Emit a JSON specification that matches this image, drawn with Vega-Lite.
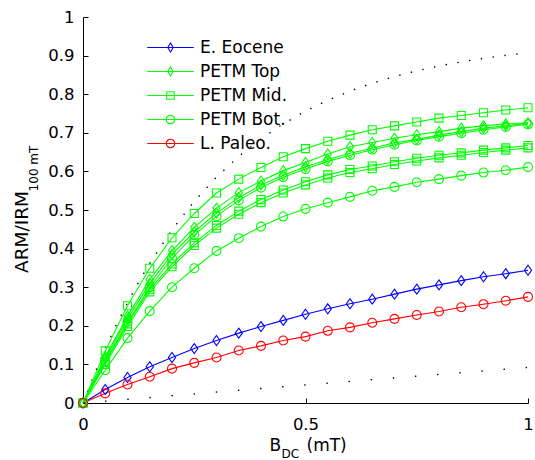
{
  "$schema": "https://vega.github.io/schema/vega-lite/v6.json",
  "width": 445,
  "height": 386,
  "autosize": {"type": "none"},
  "padding": {"left": 83, "top": 17, "right": 7, "bottom": 57},
  "background": "white",
  "config": {
    "view": {"stroke": null},
    "font": "DejaVu Sans",
    "axis": {"domainColor": "#000", "tickColor": "#000", "labelColor": "#000", "titleColor": "#000", "grid": false, "domainWidth": 1, "tickWidth": 1, "labelFont": "DejaVu Sans", "titleFont": "DejaVu Sans", "titleFontWeight": "normal", "labelFlush": false},
    "legend": {"labelFont": "DejaVu Sans", "orient": "none", "legendX": 79, "legendY": 22, "padding": 0, "symbolSize": 100, "symbolStrokeWidth": 1.1, "symbolFillColor": "transparent", "labelFontSize": 17, "labelOffset": 21, "rowPadding": 6, "labelColor": "#000"}
  },
  "datasets": {
    "upper": [
      {"x": 0, "y": 0}, {"x": 0.025, "y": 0.073}, {"x": 0.05, "y": 0.1405}, {"x": 0.075, "y": 0.2027}, {"x": 0.1, "y": 0.2602}, {"x": 0.125, "y": 0.3131}, {"x": 0.15, "y": 0.362}, {"x": 0.2, "y": 0.4487}, {"x": 0.25, "y": 0.5225}, {"x": 0.3, "y": 0.5853}, {"x": 0.35, "y": 0.6388}, {"x": 0.4, "y": 0.6844}, {"x": 0.45, "y": 0.7231}, {"x": 0.5, "y": 0.7561}, {"x": 0.55, "y": 0.7842}, {"x": 0.6, "y": 0.8081}, {"x": 0.65, "y": 0.8285}, {"x": 0.7, "y": 0.8458}, {"x": 0.75, "y": 0.8605}, {"x": 0.8, "y": 0.8731}, {"x": 0.85, "y": 0.8838}, {"x": 0.9, "y": 0.8929}, {"x": 0.95, "y": 0.9007}, {"x": 1, "y": 0.9072}
    ],
    "lower": [
      {"x": 0, "y": 0}, {"x": 0.5, "y": 0.047}, {"x": 1, "y": 0.092}
    ],
    "series": [
      {"c": "EE", "g": "E. Eocene", "x": 0, "y": 0}, {"c": "EE", "g": "E. Eocene", "x": 0.05, "y": 0.035}, {"c": "EE", "g": "E. Eocene", "x": 0.1, "y": 0.066}, {"c": "EE", "g": "E. Eocene", "x": 0.15, "y": 0.094}, {"c": "EE", "g": "E. Eocene", "x": 0.2, "y": 0.118}, {"c": "EE", "g": "E. Eocene", "x": 0.25, "y": 0.141}, {"c": "EE", "g": "E. Eocene", "x": 0.3, "y": 0.162}, {"c": "EE", "g": "E. Eocene", "x": 0.35, "y": 0.181}, {"c": "EE", "g": "E. Eocene", "x": 0.4, "y": 0.198}, {"c": "EE", "g": "E. Eocene", "x": 0.45, "y": 0.214}, {"c": "EE", "g": "E. Eocene", "x": 0.5, "y": 0.23}, {"c": "EE", "g": "E. Eocene", "x": 0.55, "y": 0.244}, {"c": "EE", "g": "E. Eocene", "x": 0.6, "y": 0.257}, {"c": "EE", "g": "E. Eocene", "x": 0.65, "y": 0.269}, {"c": "EE", "g": "E. Eocene", "x": 0.7, "y": 0.282}, {"c": "EE", "g": "E. Eocene", "x": 0.75, "y": 0.295}, {"c": "EE", "g": "E. Eocene", "x": 0.8, "y": 0.306}, {"c": "EE", "g": "E. Eocene", "x": 0.85, "y": 0.317}, {"c": "EE", "g": "E. Eocene", "x": 0.9, "y": 0.327}, {"c": "EE", "g": "E. Eocene", "x": 0.95, "y": 0.335}, {"c": "EE", "g": "E. Eocene", "x": 1, "y": 0.344},
      {"c": "PT1", "g": "PETM Top", "x": 0, "y": 0}, {"c": "PT1", "g": "PETM Top", "x": 0.05, "y": 0.12}, {"c": "PT1", "g": "PETM Top", "x": 0.1, "y": 0.225}, {"c": "PT1", "g": "PETM Top", "x": 0.15, "y": 0.32}, {"c": "PT1", "g": "PETM Top", "x": 0.2, "y": 0.395}, {"c": "PT1", "g": "PETM Top", "x": 0.25, "y": 0.455}, {"c": "PT1", "g": "PETM Top", "x": 0.3, "y": 0.505}, {"c": "PT1", "g": "PETM Top", "x": 0.35, "y": 0.545}, {"c": "PT1", "g": "PETM Top", "x": 0.4, "y": 0.575}, {"c": "PT1", "g": "PETM Top", "x": 0.45, "y": 0.602}, {"c": "PT1", "g": "PETM Top", "x": 0.5, "y": 0.623}, {"c": "PT1", "g": "PETM Top", "x": 0.55, "y": 0.645}, {"c": "PT1", "g": "PETM Top", "x": 0.6, "y": 0.664}, {"c": "PT1", "g": "PETM Top", "x": 0.65, "y": 0.675}, {"c": "PT1", "g": "PETM Top", "x": 0.7, "y": 0.686}, {"c": "PT1", "g": "PETM Top", "x": 0.75, "y": 0.695}, {"c": "PT1", "g": "PETM Top", "x": 0.8, "y": 0.703}, {"c": "PT1", "g": "PETM Top", "x": 0.85, "y": 0.712}, {"c": "PT1", "g": "PETM Top", "x": 0.9, "y": 0.718}, {"c": "PT1", "g": "PETM Top", "x": 0.95, "y": 0.723}, {"c": "PT1", "g": "PETM Top", "x": 1, "y": 0.726},
      {"c": "PT2", "g": "PETM Top", "x": 0, "y": 0}, {"c": "PT2", "g": "PETM Top", "x": 0.05, "y": 0.115}, {"c": "PT2", "g": "PETM Top", "x": 0.1, "y": 0.218}, {"c": "PT2", "g": "PETM Top", "x": 0.15, "y": 0.31}, {"c": "PT2", "g": "PETM Top", "x": 0.2, "y": 0.385}, {"c": "PT2", "g": "PETM Top", "x": 0.25, "y": 0.443}, {"c": "PT2", "g": "PETM Top", "x": 0.3, "y": 0.492}, {"c": "PT2", "g": "PETM Top", "x": 0.35, "y": 0.532}, {"c": "PT2", "g": "PETM Top", "x": 0.4, "y": 0.565}, {"c": "PT2", "g": "PETM Top", "x": 0.45, "y": 0.59}, {"c": "PT2", "g": "PETM Top", "x": 0.5, "y": 0.612}, {"c": "PT2", "g": "PETM Top", "x": 0.55, "y": 0.631}, {"c": "PT2", "g": "PETM Top", "x": 0.6, "y": 0.647}, {"c": "PT2", "g": "PETM Top", "x": 0.65, "y": 0.66}, {"c": "PT2", "g": "PETM Top", "x": 0.7, "y": 0.674}, {"c": "PT2", "g": "PETM Top", "x": 0.75, "y": 0.683}, {"c": "PT2", "g": "PETM Top", "x": 0.8, "y": 0.694}, {"c": "PT2", "g": "PETM Top", "x": 0.85, "y": 0.703}, {"c": "PT2", "g": "PETM Top", "x": 0.9, "y": 0.712}, {"c": "PT2", "g": "PETM Top", "x": 0.95, "y": 0.718}, {"c": "PT2", "g": "PETM Top", "x": 1, "y": 0.725},
      {"c": "PM1", "g": "PETM Mid.", "x": 0, "y": 0}, {"c": "PM1", "g": "PETM Mid.", "x": 0.05, "y": 0.135}, {"c": "PM1", "g": "PETM Mid.", "x": 0.1, "y": 0.252}, {"c": "PM1", "g": "PETM Mid.", "x": 0.15, "y": 0.349}, {"c": "PM1", "g": "PETM Mid.", "x": 0.2, "y": 0.428}, {"c": "PM1", "g": "PETM Mid.", "x": 0.25, "y": 0.491}, {"c": "PM1", "g": "PETM Mid.", "x": 0.3, "y": 0.544}, {"c": "PM1", "g": "PETM Mid.", "x": 0.35, "y": 0.58}, {"c": "PM1", "g": "PETM Mid.", "x": 0.4, "y": 0.61}, {"c": "PM1", "g": "PETM Mid.", "x": 0.45, "y": 0.638}, {"c": "PM1", "g": "PETM Mid.", "x": 0.5, "y": 0.659}, {"c": "PM1", "g": "PETM Mid.", "x": 0.55, "y": 0.678}, {"c": "PM1", "g": "PETM Mid.", "x": 0.6, "y": 0.694}, {"c": "PM1", "g": "PETM Mid.", "x": 0.65, "y": 0.708}, {"c": "PM1", "g": "PETM Mid.", "x": 0.7, "y": 0.718}, {"c": "PM1", "g": "PETM Mid.", "x": 0.75, "y": 0.728}, {"c": "PM1", "g": "PETM Mid.", "x": 0.8, "y": 0.738}, {"c": "PM1", "g": "PETM Mid.", "x": 0.85, "y": 0.745}, {"c": "PM1", "g": "PETM Mid.", "x": 0.9, "y": 0.752}, {"c": "PM1", "g": "PETM Mid.", "x": 0.95, "y": 0.759}, {"c": "PM1", "g": "PETM Mid.", "x": 1, "y": 0.765},
      {"c": "PM2", "g": "PETM Mid.", "x": 0, "y": 0}, {"c": "PM2", "g": "PETM Mid.", "x": 0.05, "y": 0.105}, {"c": "PM2", "g": "PETM Mid.", "x": 0.1, "y": 0.205}, {"c": "PM2", "g": "PETM Mid.", "x": 0.15, "y": 0.295}, {"c": "PM2", "g": "PETM Mid.", "x": 0.2, "y": 0.36}, {"c": "PM2", "g": "PETM Mid.", "x": 0.25, "y": 0.415}, {"c": "PM2", "g": "PETM Mid.", "x": 0.3, "y": 0.46}, {"c": "PM2", "g": "PETM Mid.", "x": 0.35, "y": 0.497}, {"c": "PM2", "g": "PETM Mid.", "x": 0.4, "y": 0.527}, {"c": "PM2", "g": "PETM Mid.", "x": 0.45, "y": 0.552}, {"c": "PM2", "g": "PETM Mid.", "x": 0.5, "y": 0.573}, {"c": "PM2", "g": "PETM Mid.", "x": 0.55, "y": 0.591}, {"c": "PM2", "g": "PETM Mid.", "x": 0.6, "y": 0.605}, {"c": "PM2", "g": "PETM Mid.", "x": 0.65, "y": 0.614}, {"c": "PM2", "g": "PETM Mid.", "x": 0.7, "y": 0.625}, {"c": "PM2", "g": "PETM Mid.", "x": 0.75, "y": 0.634}, {"c": "PM2", "g": "PETM Mid.", "x": 0.8, "y": 0.642}, {"c": "PM2", "g": "PETM Mid.", "x": 0.85, "y": 0.648}, {"c": "PM2", "g": "PETM Mid.", "x": 0.9, "y": 0.655}, {"c": "PM2", "g": "PETM Mid.", "x": 0.95, "y": 0.661}, {"c": "PM2", "g": "PETM Mid.", "x": 1, "y": 0.667},
      {"c": "PM3", "g": "PETM Mid.", "x": 0, "y": 0}, {"c": "PM3", "g": "PETM Mid.", "x": 0.05, "y": 0.1}, {"c": "PM3", "g": "PETM Mid.", "x": 0.1, "y": 0.198}, {"c": "PM3", "g": "PETM Mid.", "x": 0.15, "y": 0.288}, {"c": "PM3", "g": "PETM Mid.", "x": 0.2, "y": 0.353}, {"c": "PM3", "g": "PETM Mid.", "x": 0.25, "y": 0.408}, {"c": "PM3", "g": "PETM Mid.", "x": 0.3, "y": 0.453}, {"c": "PM3", "g": "PETM Mid.", "x": 0.35, "y": 0.489}, {"c": "PM3", "g": "PETM Mid.", "x": 0.4, "y": 0.519}, {"c": "PM3", "g": "PETM Mid.", "x": 0.45, "y": 0.544}, {"c": "PM3", "g": "PETM Mid.", "x": 0.5, "y": 0.565}, {"c": "PM3", "g": "PETM Mid.", "x": 0.55, "y": 0.583}, {"c": "PM3", "g": "PETM Mid.", "x": 0.6, "y": 0.597}, {"c": "PM3", "g": "PETM Mid.", "x": 0.65, "y": 0.607}, {"c": "PM3", "g": "PETM Mid.", "x": 0.7, "y": 0.618}, {"c": "PM3", "g": "PETM Mid.", "x": 0.75, "y": 0.627}, {"c": "PM3", "g": "PETM Mid.", "x": 0.8, "y": 0.635}, {"c": "PM3", "g": "PETM Mid.", "x": 0.85, "y": 0.642}, {"c": "PM3", "g": "PETM Mid.", "x": 0.9, "y": 0.649}, {"c": "PM3", "g": "PETM Mid.", "x": 0.95, "y": 0.655}, {"c": "PM3", "g": "PETM Mid.", "x": 1, "y": 0.661},
      {"c": "PB1", "g": "PETM Bot.", "x": 0, "y": 0}, {"c": "PB1", "g": "PETM Bot.", "x": 0.05, "y": 0.085}, {"c": "PB1", "g": "PETM Bot.", "x": 0.1, "y": 0.168}, {"c": "PB1", "g": "PETM Bot.", "x": 0.15, "y": 0.238}, {"c": "PB1", "g": "PETM Bot.", "x": 0.2, "y": 0.3}, {"c": "PB1", "g": "PETM Bot.", "x": 0.25, "y": 0.349}, {"c": "PB1", "g": "PETM Bot.", "x": 0.3, "y": 0.394}, {"c": "PB1", "g": "PETM Bot.", "x": 0.35, "y": 0.427}, {"c": "PB1", "g": "PETM Bot.", "x": 0.4, "y": 0.457}, {"c": "PB1", "g": "PETM Bot.", "x": 0.45, "y": 0.483}, {"c": "PB1", "g": "PETM Bot.", "x": 0.5, "y": 0.503}, {"c": "PB1", "g": "PETM Bot.", "x": 0.55, "y": 0.519}, {"c": "PB1", "g": "PETM Bot.", "x": 0.6, "y": 0.534}, {"c": "PB1", "g": "PETM Bot.", "x": 0.65, "y": 0.55}, {"c": "PB1", "g": "PETM Bot.", "x": 0.7, "y": 0.56}, {"c": "PB1", "g": "PETM Bot.", "x": 0.75, "y": 0.572}, {"c": "PB1", "g": "PETM Bot.", "x": 0.8, "y": 0.58}, {"c": "PB1", "g": "PETM Bot.", "x": 0.85, "y": 0.589}, {"c": "PB1", "g": "PETM Bot.", "x": 0.9, "y": 0.597}, {"c": "PB1", "g": "PETM Bot.", "x": 0.95, "y": 0.603}, {"c": "PB1", "g": "PETM Bot.", "x": 1, "y": 0.611},
      {"c": "PB2", "g": "PETM Bot.", "x": 0, "y": 0}, {"c": "PB2", "g": "PETM Bot.", "x": 0.05, "y": 0.108}, {"c": "PB2", "g": "PETM Bot.", "x": 0.1, "y": 0.21}, {"c": "PB2", "g": "PETM Bot.", "x": 0.15, "y": 0.3}, {"c": "PB2", "g": "PETM Bot.", "x": 0.2, "y": 0.375}, {"c": "PB2", "g": "PETM Bot.", "x": 0.25, "y": 0.435}, {"c": "PB2", "g": "PETM Bot.", "x": 0.3, "y": 0.484}, {"c": "PB2", "g": "PETM Bot.", "x": 0.35, "y": 0.525}, {"c": "PB2", "g": "PETM Bot.", "x": 0.4, "y": 0.558}, {"c": "PB2", "g": "PETM Bot.", "x": 0.45, "y": 0.585}, {"c": "PB2", "g": "PETM Bot.", "x": 0.5, "y": 0.606}, {"c": "PB2", "g": "PETM Bot.", "x": 0.55, "y": 0.626}, {"c": "PB2", "g": "PETM Bot.", "x": 0.6, "y": 0.642}, {"c": "PB2", "g": "PETM Bot.", "x": 0.65, "y": 0.656}, {"c": "PB2", "g": "PETM Bot.", "x": 0.7, "y": 0.669}, {"c": "PB2", "g": "PETM Bot.", "x": 0.75, "y": 0.68}, {"c": "PB2", "g": "PETM Bot.", "x": 0.8, "y": 0.69}, {"c": "PB2", "g": "PETM Bot.", "x": 0.85, "y": 0.699}, {"c": "PB2", "g": "PETM Bot.", "x": 0.9, "y": 0.708}, {"c": "PB2", "g": "PETM Bot.", "x": 0.95, "y": 0.715}, {"c": "PB2", "g": "PETM Bot.", "x": 1, "y": 0.722},
      {"c": "LP", "g": "L. Paleo.", "x": 0, "y": 0}, {"c": "LP", "g": "L. Paleo.", "x": 0.05, "y": 0.025}, {"c": "LP", "g": "L. Paleo.", "x": 0.1, "y": 0.048}, {"c": "LP", "g": "L. Paleo.", "x": 0.15, "y": 0.068}, {"c": "LP", "g": "L. Paleo.", "x": 0.2, "y": 0.089}, {"c": "LP", "g": "L. Paleo.", "x": 0.25, "y": 0.104}, {"c": "LP", "g": "L. Paleo.", "x": 0.3, "y": 0.118}, {"c": "LP", "g": "L. Paleo.", "x": 0.35, "y": 0.136}, {"c": "LP", "g": "L. Paleo.", "x": 0.4, "y": 0.148}, {"c": "LP", "g": "L. Paleo.", "x": 0.45, "y": 0.162}, {"c": "LP", "g": "L. Paleo.", "x": 0.5, "y": 0.172}, {"c": "LP", "g": "L. Paleo.", "x": 0.55, "y": 0.187}, {"c": "LP", "g": "L. Paleo.", "x": 0.6, "y": 0.196}, {"c": "LP", "g": "L. Paleo.", "x": 0.65, "y": 0.208}, {"c": "LP", "g": "L. Paleo.", "x": 0.7, "y": 0.218}, {"c": "LP", "g": "L. Paleo.", "x": 0.75, "y": 0.228}, {"c": "LP", "g": "L. Paleo.", "x": 0.8, "y": 0.237}, {"c": "LP", "g": "L. Paleo.", "x": 0.85, "y": 0.248}, {"c": "LP", "g": "L. Paleo.", "x": 0.9, "y": 0.256}, {"c": "LP", "g": "L. Paleo.", "x": 0.95, "y": 0.265}, {"c": "LP", "g": "L. Paleo.", "x": 1, "y": 0.275}
    ]
  },
  "resolve": {"axis": {"x": "independent", "y": "independent"}},
  "layer": [
    {
      "data": {"name": "upper"},
      "mark": {"type": "line", "color": "#000", "strokeWidth": 1.4, "strokeDash": [1.4, 10.5], "strokeCap": "butt"},
      "encoding": {
        "x": {"field": "x", "type": "quantitative", "scale": {"domain": [0, 1], "nice": false},
          "axis": {"orient": "bottom", "labels": false, "ticks": false, "domain": false, "title": "DC", "titleFontSize": 12, "titleAlign": "left", "titleBaseline": "alphabetic", "titleX": 198, "titleY": 54.5}},
        "y": {"field": "y", "type": "quantitative", "scale": {"domain": [0, 1], "nice": false},
          "axis": {"orient": "left", "labels": false, "ticks": false, "domain": false, "title": "100 mT", "titleFontSize": 12, "titleAngle": 270, "titleAlign": "center", "titleBaseline": "alphabetic", "titleX": -46, "titleY": 151}}
      }
    },
    {
      "data": {"name": "lower"},
      "mark": {"type": "line", "color": "#000", "strokeWidth": 1.4, "strokeDash": [1.4, 20.8], "strokeCap": "butt"},
      "encoding": {
        "x": {"field": "x", "type": "quantitative", "scale": {"domain": [0, 1], "nice": false},
          "axis": {"orient": "bottom", "labels": false, "ticks": false, "domain": false, "title": "(mT)", "titleFontSize": 17, "titleAlign": "left", "titleBaseline": "alphabetic", "titleX": 223, "titleY": 47}},
        "y": {"field": "y", "type": "quantitative", "axis": null}
      }
    },
    {
      "data": {"name": "series"},
      "mark": {"type": "line", "strokeWidth": 1.1},
      "encoding": {
        "x": {"field": "x", "type": "quantitative", "scale": {"domain": [0, 1], "nice": false},
          "axis": {"orient": "bottom", "values": [0, 0.5, 1], "format": "~g", "tickSize": -5, "labelPadding": 18, "labelFontSize": 16.5, "title": "B", "titleFontSize": 17, "titleAlign": "left", "titleBaseline": "alphabetic", "titleX": 186, "titleY": 47}},
        "y": {"field": "y", "type": "quantitative", "scale": {"domain": [0, 1], "nice": false},
          "axis": {"orient": "left", "values": [0, 0.1, 0.2, 0.3, 0.4, 0.5, 0.6, 0.7, 0.8, 0.9, 1], "format": "~g", "tickSize": -5, "labelPadding": 14, "labelFontSize": 16.5, "title": "ARM/IRM", "titleFontSize": 18.5, "titleAngle": 270, "titleAlign": "center", "titleBaseline": "alphabetic", "titleX": -56, "titleY": 214.5}},
        "color": {"field": "g", "type": "nominal", "title": null,
          "scale": {"domain": ["E. Eocene", "PETM Top", "PETM Mid.", "PETM Bot.", "L. Paleo."], "range": ["#0000ff", "#00ff00", "#00ff00", "#00ff00", "#ff0000"]}},
        "detail": {"field": "c", "type": "nominal"}
      }
    },
    {
      "data": {"name": "series"},
      "transform": [{"filter": {"field": "g", "oneOf": ["E. Eocene", "PETM Top"]}}],
      "mark": {"type": "point", "filled": false, "size": 100, "strokeWidth": 1.1, "opacity": 1, "shape": "M0,-1L0.72,0L0,1L-0.72,0Z"},
      "encoding": {
        "x": {"field": "x", "type": "quantitative", "axis": null},
        "y": {"field": "y", "type": "quantitative", "axis": null},
        "color": {"field": "g", "type": "nominal", "title": null},
        "detail": {"field": "c", "type": "nominal"}
      }
    },
    {
      "data": {"name": "series"},
      "transform": [{"filter": {"field": "g", "oneOf": ["PETM Mid."]}}],
      "mark": {"type": "point", "filled": false, "size": 100, "strokeWidth": 1.1, "opacity": 1, "shape": "M-0.8,-0.8L0.8,-0.8L0.8,0.8L-0.8,0.8Z"},
      "encoding": {
        "x": {"field": "x", "type": "quantitative", "axis": null},
        "y": {"field": "y", "type": "quantitative", "axis": null},
        "color": {"field": "g", "type": "nominal", "title": null},
        "detail": {"field": "c", "type": "nominal"}
      }
    },
    {
      "data": {"name": "series"},
      "transform": [{"filter": {"field": "g", "oneOf": ["PETM Bot.", "L. Paleo."]}}],
      "mark": {"type": "point", "filled": false, "size": 100, "strokeWidth": 1.1, "opacity": 1, "shape": "M0.9,0A0.9,0.9,0,1,1,-0.9,0A0.9,0.9,0,1,1,0.9,0Z"},
      "encoding": {
        "x": {"field": "x", "type": "quantitative", "axis": null},
        "y": {"field": "y", "type": "quantitative", "axis": null},
        "color": {"field": "g", "type": "nominal", "title": null},
        "detail": {"field": "c", "type": "nominal"}
      }
    },
    {
      "data": {"name": "series"},
      "mark": {"type": "point", "filled": false, "size": 0, "strokeWidth": 1.1},
      "encoding": {
        "x": {"field": "x", "type": "quantitative", "axis": null},
        "y": {"field": "y", "type": "quantitative", "axis": null},
        "color": {"field": "g", "type": "nominal", "title": null},
        "shape": {"field": "g", "type": "nominal", "title": null,
          "scale": {"domain": ["E. Eocene", "PETM Top", "PETM Mid.", "PETM Bot.", "L. Paleo."], "range": ["M-4.65,0L4.65,0M0,-0.9L0.55,0L0,0.9L-0.55,0Z", "M-4.65,0L4.65,0M0,-0.9L0.55,0L0,0.9L-0.55,0Z", "M-4.65,0L4.65,0M-0.75,-0.75L0.75,-0.75L0.75,0.75L-0.75,0.75Z", "M-4.65,0L4.65,0M0.85,0A0.85,0.85,0,1,1,-0.85,0A0.85,0.85,0,1,1,0.85,0Z", "M-4.65,0L4.65,0M0.85,0A0.85,0.85,0,1,1,-0.85,0A0.85,0.85,0,1,1,0.85,0Z"]}},
        "detail": {"field": "c", "type": "nominal"}
      }
    }
  ]
}
